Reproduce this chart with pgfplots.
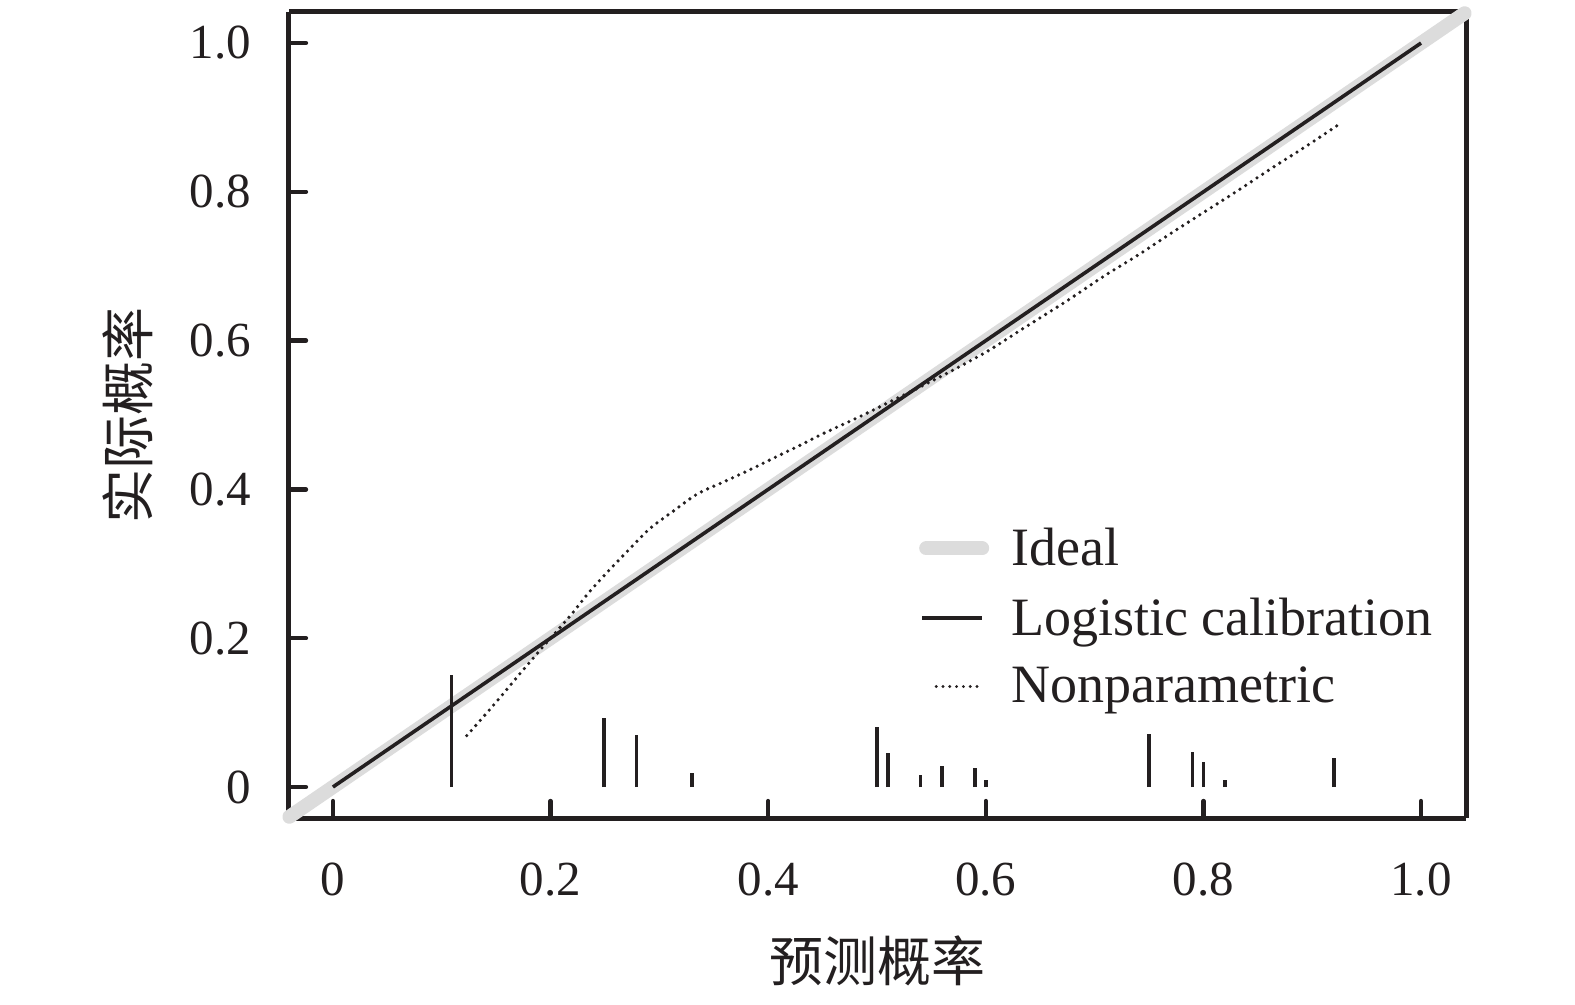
\documentclass[border=0pt]{standalone}
\usepackage{pgfplots}
\pgfplotsset{compat=1.18}
\usepackage{fontspec}
\setmainfont{Liberation Serif}
\newfontfamily\cjk{Noto Sans CJK SC}
\definecolor{ink}{HTML}{231F20}
\definecolor{idealgray}{HTML}{DCDCDC}

\begin{document}
\begin{tikzpicture}
\begin{axis}[
    scale only axis,
    width=588.5pt, height=403pt,
    xmin=-0.0404, xmax=1.0413,
    ymin=-0.0417, ymax=1.0417,
    axis line style={ink, line width=2.5pt},
    axis x line*=bottom, axis y line*=left,
    separate axis lines,
    every outer x axis line/.append style={-},
    every outer y axis line/.append style={-},
    clip=false,
    tick align=inside,
    major tick length=8.5pt,
    tick style={ink, line width=2.2pt, line cap=round},
    xtick={0,0.2,0.4,0.6,0.8,1.0},
    ytick={0,0.2,0.4,0.6,0.8,1.0},
    xticklabels={0,0.2,0.4,0.6,0.8,1.0},
    yticklabels={0,0.2,0.4,0.6,0.8,1.0},
    ticklabel style={font=\fontsize{24.5}{28}\selectfont, text=ink},
    yticklabel style={xshift=-15.5pt},
    xticklabel style={yshift=-19pt},
    xlabel={\cjk 预测概率},
    ylabel={\cjk 实际概率},
    label style={font=\fontsize{27}{30}\selectfont, text=ink},
    xlabel style={yshift=-13pt},
    ylabel style={yshift=11.5pt},
    legend cell align=left,
    legend style={at={(rel axis cs:0.53,0.37)}, anchor=north west,
        draw=none, fill=none, font=\fontsize{27}{30}\selectfont,
        text=ink, row sep=10.5pt,
        /tikz/every odd column/.append style={column sep=9pt}},
]
% frame on top and right
\path[draw=ink, line width=2.5pt] (rel axis cs:0,1) -- (rel axis cs:1,1) -- (rel axis cs:1,0);
% bounding box matching reference proportions
\path (rel axis cs:-0.2455,-0.2308) rectangle (rel axis cs:1.0926,1.0149);

\addplot[idealgray, line width=7pt, line cap=round,
    legend image code/.code={\draw[idealgray, line width=7pt, line cap=round] (0pt,0pt) -- (28pt,0pt);}]
    coordinates {(-0.04,-0.04) (1.04,1.04)};
\addlegendentry{Ideal}

\addplot[ink, line width=1.8pt,
    legend image code/.code={\draw[ink, line width=1.8pt] (-2pt,0pt) -- (28pt,0pt);}]
    coordinates {(0,0) (1,1)};
\addlegendentry{Logistic calibration}

\addplot[ink, line width=1.8pt, line cap=round, dash pattern=on 0pt off 3.4pt, smooth,
    legend image code/.code={\draw[ink, line width=1.6pt, line cap=round, dash pattern=on 0pt off 3.4pt] (5pt,0pt) -- (26pt,0pt);}]
    coordinates {
    (0.123,0.069) (0.147,0.109) (0.170,0.149) (0.188,0.180) (0.200,0.200)
    (0.218,0.230) (0.235,0.261) (0.253,0.290) (0.272,0.319) (0.291,0.347)
    (0.313,0.371) (0.335,0.394) (0.359,0.410) (0.384,0.427) (0.409,0.445)
    (0.433,0.462) (0.449,0.474) (0.483,0.497) (0.515,0.520) (0.540,0.538)
    (0.572,0.562) (0.603,0.587) (0.634,0.616) (0.673,0.652) (0.710,0.688)
    (0.741,0.716) (0.771,0.745) (0.802,0.774) (0.832,0.802) (0.863,0.832)
    (0.893,0.860) (0.924,0.890)
    };
\addlegendentry{Nonparametric}

% rug of predicted probabilities
\addplot[ycomb, ink, line width=1.8pt, mark=none, forget plot] coordinates {
    (0.109,0.150) (0.249,0.093) (0.279,0.070) (0.330,0.019)
    (0.500,0.080) (0.510,0.046) (0.540,0.016) (0.560,0.028)
    (0.590,0.026) (0.600,0.010) (0.750,0.071) (0.790,0.047)
    (0.800,0.034) (0.820,0.009) (0.920,0.039)
};
\end{axis}
\end{tikzpicture}
\end{document}
